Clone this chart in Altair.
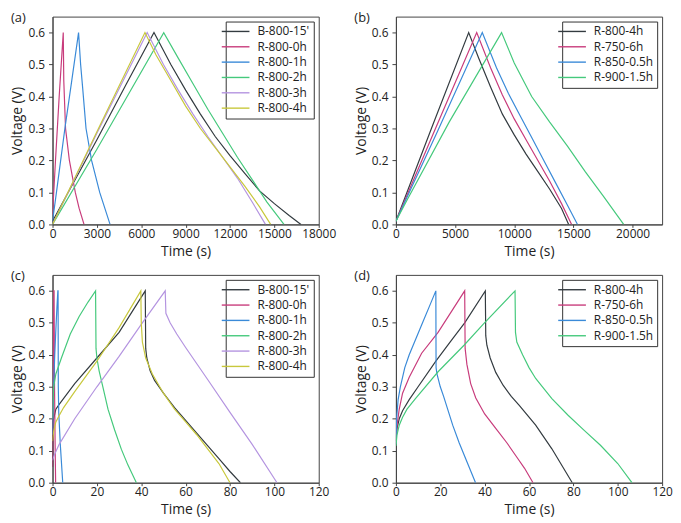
import altair as alt
import pandas as pd

# ---------------- Panel (a): time in s (long) ----------------
A_NAMES = ["B-800-15'", "R-800-0h", "R-800-1h", "R-800-2h", "R-800-3h", "R-800-4h"]
A_COLORS = ["#333b40", "#c83c7c", "#3a8ad8", "#45c97c", "#b494e0", "#c8c83c"]

A_B800_15_T = [0, 1000, 3000, 5000, 6860, 8000, 9000, 10000, 11000, 12000, 13000, 14000, 15000, 16000, 16800]
A_B800_15_V = [0.01, 0.095, 0.265, 0.44, 0.6, 0.5, 0.42, 0.345, 0.275, 0.215, 0.16, 0.105, 0.065, 0.028, 0.0]
A_R800_0_T = [0, 200, 450, 725, 760, 880, 1140, 1540, 1800, 2130]
A_R800_0_V = [0.03, 0.2, 0.4, 0.6, 0.45, 0.3, 0.2, 0.1, 0.05, 0.0]
A_R800_1_T = [0, 265, 835, 1300, 1760, 1900, 2050, 2265, 2640, 3190, 3890]
A_R800_1_V = [0.01, 0.1, 0.3, 0.45, 0.6, 0.5, 0.42, 0.3, 0.2, 0.1, 0.0]
A_R800_2_T = [0, 3000, 7520, 8500, 9500, 10500, 11500, 12500, 13500, 14500, 15650]
A_R800_2_V = [0.0, 0.235, 0.6, 0.52, 0.44, 0.36, 0.285, 0.21, 0.14, 0.07, 0.0]
A_R800_3_T = [0, 3000, 6400, 7500, 8500, 9500, 10500, 11500, 12500, 13500, 14400]
A_R800_3_V = [0.0, 0.285, 0.6, 0.5, 0.42, 0.345, 0.275, 0.21, 0.145, 0.07, 0.0]
A_R800_4_T = [0, 3000, 6250, 7000, 8000, 9000, 10000, 11000, 12000, 13000, 14000, 14750]
A_R800_4_V = [0.0, 0.29, 0.6, 0.53, 0.45, 0.37, 0.3, 0.24, 0.18, 0.12, 0.055, 0.0]

# ---------------- Panel (b) ----------------
B_NAMES = ["R-800-4h", "R-750-6h", "R-850-0.5h", "R-900-1.5h"]
B_COLORS = ["#333b40", "#c83c7c", "#3a8ad8", "#45c97c"]

B_R800_4_T = [0, 3000, 6150, 7000, 8000, 9000, 10000, 11000, 12000, 13000, 14000, 14600]
B_R800_4_V = [0.01, 0.3, 0.6, 0.52, 0.43, 0.345, 0.28, 0.22, 0.165, 0.11, 0.05, 0.0]
B_R750_6_T = [0, 3000, 6830, 8000, 9000, 10000, 11000, 12000, 13000, 14000, 14850]
B_R750_6_V = [0.01, 0.27, 0.6, 0.49, 0.405, 0.33, 0.265, 0.2, 0.135, 0.065, 0.0]
B_R850_05_T = [0, 3500, 7300, 8500, 9500, 10500, 11500, 12500, 13500, 14500, 15350]
B_R850_05_V = [0.01, 0.29, 0.6, 0.49, 0.41, 0.34, 0.27, 0.2, 0.13, 0.06, 0.0]
B_R900_15_T = [0, 1000, 4500, 8930, 10000, 11475, 13000, 14500, 16000, 17500, 19250]
B_R900_15_V = [0.01, 0.08, 0.32, 0.6, 0.505, 0.4, 0.32, 0.245, 0.165, 0.09, 0.0]

# ---------------- Panel (c) ----------------
C_B800_15_T = [0, 0.1, 0.5, 1.5, 3, 10, 20, 30, 41.8, 42.0, 42.5, 44, 46, 50, 55, 60, 65, 70, 75, 80, 84.7]
C_B800_15_V = [0.05, 0.19, 0.2, 0.23, 0.245, 0.31, 0.39, 0.47, 0.6, 0.42, 0.39, 0.35, 0.32, 0.28, 0.235, 0.195, 0.155, 0.115, 0.075, 0.035, 0.0]
C_R800_0_T = [0, 0.3, 0.6, 0.7, 0.9, 1.2, 1.4]
C_R800_0_V = [0.05, 0.3, 0.6, 0.6, 0.3, 0.1, 0.0]
C_R800_1_T = [0, 0.5, 1.0, 1.5, 2.0, 2.4, 2.5, 2.6, 2.8, 3.5, 4.6]
C_R800_1_V = [0.15, 0.3, 0.4, 0.48, 0.55, 0.6, 0.6, 0.3, 0.22, 0.12, 0.0]
C_R800_2_T = [0, 0.5, 1.5, 4, 8, 12, 16, 19.4, 19.6, 20, 21, 23, 25, 28, 31, 34, 37.8]
C_R800_2_V = [0.2, 0.3, 0.34, 0.39, 0.465, 0.52, 0.565, 0.6, 0.42, 0.39, 0.35, 0.29, 0.23, 0.165, 0.105, 0.055, 0.0]
C_R800_3_T = [0, 1, 3, 10, 20, 30, 40, 50.8, 51.1, 53, 56, 60, 70, 80, 90, 101.2]
C_R800_3_V = [0.07, 0.09, 0.12, 0.2, 0.3, 0.395, 0.495, 0.6, 0.53, 0.5, 0.465, 0.423, 0.322, 0.22, 0.12, 0.0]
C_R800_4_T = [0, 0.5, 1.5, 3, 5, 10, 20, 30, 39.8, 40.0, 40.5, 42, 45, 50, 55, 60, 65, 70, 75, 80]
C_R800_4_V = [0.13, 0.16, 0.19, 0.21, 0.235, 0.285, 0.38, 0.485, 0.6, 0.5, 0.44, 0.39, 0.34, 0.28, 0.23, 0.19, 0.15, 0.105, 0.06, 0.0]

# ---------------- Panel (d) ----------------
D_R800_4_T = [0, 0.5, 1.5, 3, 6, 10, 18, 25, 31, 40.3, 40.5, 41, 42.5, 45, 48.3, 52, 55.6, 63, 70.3, 79.5]
D_R800_4_V = [0.13, 0.17, 0.2, 0.225, 0.26, 0.3, 0.38, 0.445, 0.5, 0.6, 0.46, 0.43, 0.39, 0.345, 0.305, 0.27, 0.242, 0.18, 0.106, 0.0]
D_R750_6_T = [0, 0.5, 1.5, 3, 6, 11.6, 19, 25, 31, 31.2, 32, 33.7, 36, 40, 45, 50, 55, 58, 61.8]
D_R750_6_V = [0.12, 0.18, 0.23, 0.28, 0.33, 0.405, 0.47, 0.535, 0.6, 0.42, 0.37, 0.31, 0.265, 0.215, 0.17, 0.125, 0.075, 0.045, 0.0]
D_R850_05_T = [0, 0.3, 1, 2, 4, 6, 9, 12, 15, 18, 18.1, 18.5, 20, 21.5, 25.6, 28.5, 31.5, 35.9]
D_R850_05_V = [0.12, 0.2, 0.26, 0.3, 0.36, 0.4, 0.45, 0.5, 0.55, 0.6, 0.36, 0.34, 0.3, 0.27, 0.18, 0.125, 0.074, 0.0]
D_R900_15_T = [0, 0.5, 1.5, 3, 5, 8.8, 19, 30.7, 39.5, 53.7, 53.9, 54.5, 57.1, 60, 63, 70.3, 77.6, 85, 92.2, 100, 106.4]
D_R900_15_V = [0.115, 0.15, 0.18, 0.205, 0.23, 0.263, 0.347, 0.43, 0.497, 0.6, 0.47, 0.44, 0.4, 0.36, 0.326, 0.263, 0.211, 0.163, 0.117, 0.06, 0.0]

A_XTICKS = [0, 3000, 6000, 9000, 12000, 15000, 18000]
B_XTICKS = [0, 5000, 10000, 15000, 20000]
CD_XTICKS = [0, 20, 40, 60, 80, 100, 120]
Y_TICKS = [0.0, 0.1, 0.2, 0.3, 0.4, 0.5, 0.6]


def frame(names, ts, vs):
    rows = []
    for n, t, v in zip(names, ts, vs):
        for i, (ti, vi) in enumerate(zip(t, v)):
            rows.append({"series": n, "t": ti, "v": vi, "i": i})
    return pd.DataFrame(rows)


W, H = 269, 210


def panel(df, names, colors, xdom, xticks, label):
    return alt.Chart(df).mark_line(strokeWidth=1.2, clip=True).encode(
        x=alt.X("t:Q", scale=alt.Scale(domain=xdom, nice=False),
                axis=alt.Axis(values=xticks, format="d", title="Time (s)",
                              labelOverlap=False, labelFlush=False)),
        y=alt.Y("v:Q", scale=alt.Scale(domain=[0, 0.65], nice=False),
                axis=alt.Axis(values=Y_TICKS, format=".1f", title="Voltage (V)",
                              labelFlush=False)),
        color=alt.Color("series:N", scale=alt.Scale(domain=names, range=colors),
                        legend=alt.Legend(title=None)),
        order=alt.Order("i:Q"),
    ).properties(
        width=W, height=H,
        title=alt.TitleParams(label, anchor="start", frame="group", dx=-42, offset=-8,
                              fontSize=13, fontWeight="normal", font="Open Sans",
                              color="#222"),
    )


pa = panel(frame(A_NAMES, [A_B800_15_T, A_R800_0_T, A_R800_1_T, A_R800_2_T, A_R800_3_T, A_R800_4_T],
                 [A_B800_15_V, A_R800_0_V, A_R800_1_V, A_R800_2_V, A_R800_3_V, A_R800_4_V]),
           A_NAMES, A_COLORS, [0, 18000], A_XTICKS, "(a)")
pb = panel(frame(B_NAMES, [B_R800_4_T, B_R750_6_T, B_R850_05_T, B_R900_15_T],
                 [B_R800_4_V, B_R750_6_V, B_R850_05_V, B_R900_15_V]),
           B_NAMES, B_COLORS, [0, 22500], B_XTICKS, "(b)")
pc = panel(frame(A_NAMES, [C_B800_15_T, C_R800_0_T, C_R800_1_T, C_R800_2_T, C_R800_3_T, C_R800_4_T],
                 [C_B800_15_V, C_R800_0_V, C_R800_1_V, C_R800_2_V, C_R800_3_V, C_R800_4_V]),
           A_NAMES, A_COLORS, [0, 120], CD_XTICKS, "(c)")
pd_ = panel(frame(B_NAMES, [D_R800_4_T, D_R750_6_T, D_R850_05_T, D_R900_15_T],
                  [D_R800_4_V, D_R750_6_V, D_R850_05_V, D_R900_15_V]),
            B_NAMES, B_COLORS, [0, 120], CD_XTICKS, "(d)")

chart = alt.concat(pa, pb, pc, pd_, columns=2, spacing={"row": 10, "column": 17}).resolve_scale(
    color="independent", x="independent"
).configure(
    padding={"left": 2, "top": 0, "right": 0, "bottom": 0}, background="white"
).configure_view(
    stroke="#444", strokeWidth=1
).configure_axis(
    grid=False, domainColor="#444", tickColor="#444",
    labelFont="Open Sans", labelFontSize=12, labelColor="#222",
    titleFont="Open Sans", titleFontSize=14, titleFontWeight="normal", titleColor="#222",
).configure_axisX(
    tickSize=3, labelPadding=1, titlePadding=5,
).configure_axisY(
    tickSize=4, labelPadding=4, titlePadding=3,
).configure_legend(
    orient="top-right", offset=5, padding=4,
    strokeColor="#333", fillColor="white",
    symbolType="M-3.5,0H3.5", symbolSize=64, symbolStrokeWidth=1.4,
    labelFont="Open Sans", labelFontSize=12, labelColor="#222", labelOffset=16,
    rowPadding=3.5,
)

chart.save("out.html", embed_options={"renderer": "svg", "actions": False})
